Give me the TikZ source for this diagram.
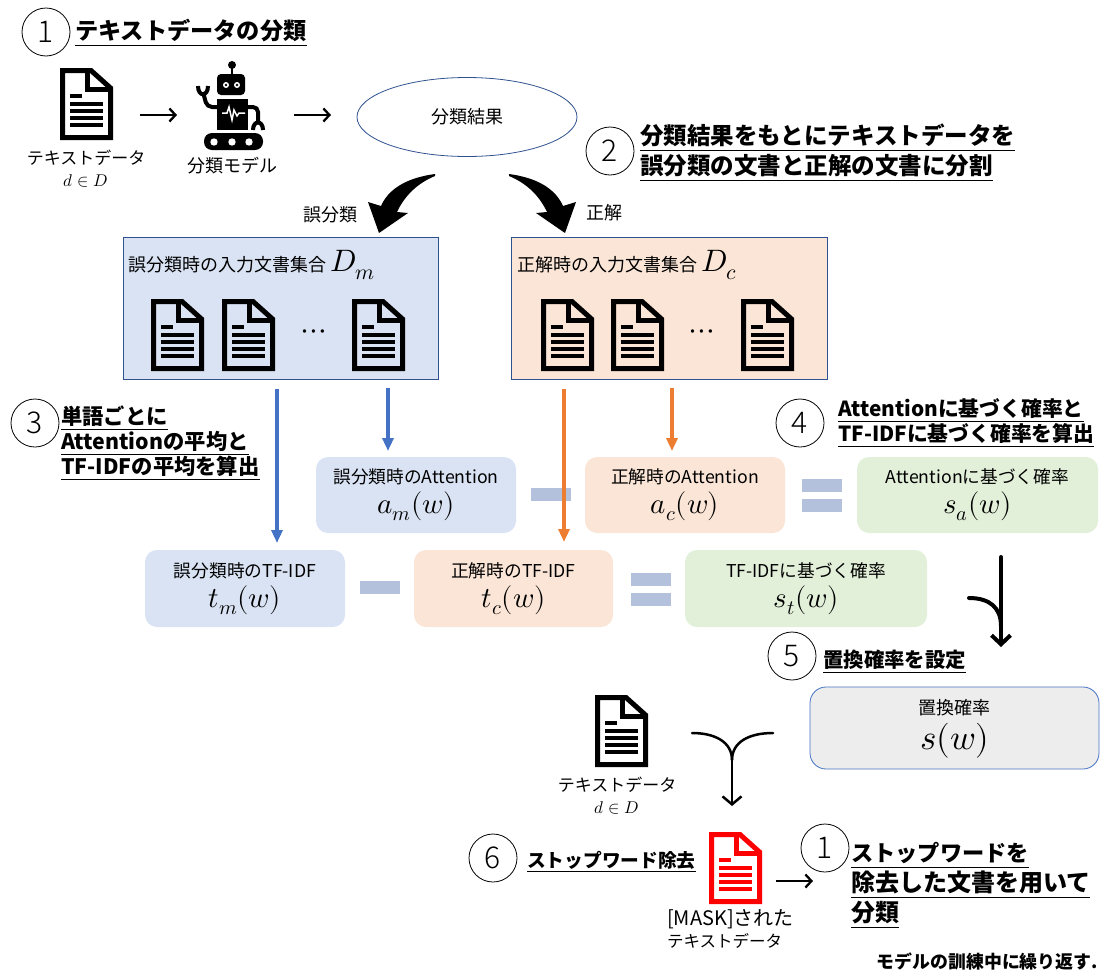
\documentclass[tikz,border=0pt]{standalone}
\usepackage{amsmath}
\usepackage{fontspec}
\usepackage{unicode-math}
\usetikzlibrary{arrows.meta}
\usetikzlibrary{shapes.geometric}
\setmainfont{Noto Sans CJK JP}
\setmathfont{Latin Modern Math}
\newfontfamily\thinnum{Noto Sans CJK JP Light}

\definecolor{panelblue}{HTML}{DAE3F3}
\definecolor{panelorange}{HTML}{FBE5D6}
\definecolor{panelgreen}{HTML}{E2F0D9}
\definecolor{panelgray}{HTML}{EDEDED}
\definecolor{edgeblue}{HTML}{2F528F}
\definecolor{arrowblue}{HTML}{4472C4}
\definecolor{arrowred}{HTML}{ED7D31}
\definecolor{signblue}{HTML}{B4C1DD}

\newcommand{\fsize}[1]{\fontsize{#1}{#1}\selectfont}

\tikzset{
    stepnum/.style={draw,circle,minimum size=48pt,inner sep=0pt,line width=0.8pt,font=\thinnum\fsize{30}},
    heading/.style={anchor=west,inner sep=0pt,align=left,font=\bfseries\fontsize{#1}{30}\selectfont},
    plain/.style={inner sep=0pt,align=center,font=\fontsize{#1}{22}\selectfont},
    softbox/.style={fill=#1,rounded corners=12pt,inner sep=0pt,align=center,font=\fontsize{17.7}{30}\selectfont},
    signbar/.style={fill=signblue,minimum width=40pt,minimum height=13pt,inner sep=0pt},
    thinarrow/.style={-{Straight Barb[length=6pt,width=13pt]},line width=2.3pt},
    colarrow/.style={-{Triangle[length=13pt,width=11pt]},line width=3.5pt,#1},
    mergeline/.style={line width=#1,line cap=round},
    pics/docicon/.style={code={
        \draw[#1,line width=5pt,miter limit=3] (2.5,2.5) -- (31,2.5) -- (50.5,20) -- (50.5,69.5) -- (2.5,69.5) -- cycle;
        \draw[#1,line width=5pt] (27.5,2.5) -- (27.5,21.5) -- (50,21.5);
        \fill[#1] (10,26) rectangle (22,30);
        \foreach \ybar in {34,41,48,55}
            \fill[#1] (10,\ybar) rectangle (43,\ybar+3.7);
    }},
    pics/docicon/.default=black,
    pics/bendarrow/.style={code={
        \fill (0,0) .. controls (-30,4) and (-47,16) .. (-54,32) -- (-67,28) -- (-56,59) -- (-27,39) -- (-38,38)
            .. controls (-30,21) and (-17,9) .. (0,2) -- cycle;
    }},
    pics/robot/.style={code={
        \fill (36,5) circle (4);
        \draw[line width=2.5pt] (36,8) -- (36,14);
        \fill[rounded corners=4pt] (21,14) rectangle (49,35);
        \foreach \xeye in {30,41} {
            \fill[white] (\xeye,25) circle (3);
            \fill (\xeye,25) circle (1.4);
        }
        \fill (21,39) rectangle (52,70);
        \draw[white,line width=1.5pt] (26,53) -- (31,53) -- (33,47) -- (36,60) -- (38,50) -- (41,56) -- (43,53) -- (49,53);
        \draw[line width=4pt,rounded corners=5pt] (21,47) -- (11,47) -- (7,32);
        \draw[line width=4pt] (2,26) .. controls (2,37) and (12,37) .. (12,26);
        \draw[line width=4pt,rounded corners=5pt] (52,47) -- (62,47) -- (62,62);
        \draw[line width=4pt] (57,70) .. controls (57,60) and (67,60) .. (67,70);
        \fill[rounded corners=8pt] (8,73) rectangle (67,90);
        \foreach \xdot in {18,36,53}
            \fill[white] (\xdot,82) circle (3.7);
    }}
}

\begin{document}
\begin{tikzpicture}[x=1pt,y=-1pt]
    \useasboundingbox (0,0) rectangle (1102,972);

    \node[stepnum] (stepA) at (46,32) {1};
    \node[heading=23.2] (titleA) at (75,33) {\underline{テキストデータの分類}};
    \pic (docTop) at (60,68) {docicon};
    \node[plain=17] (docTopLabel) at (86,169) {テキストデータ\\\fsize{17}$d\in D$};
    \pic (robot) at (196,60) {robot};
    \node[plain=18] (robotLabel) at (232,166) {分類モデル};
    \node[draw=edgeblue,ellipse,minimum width=220pt,minimum height=79pt,line width=0.8pt,font=\fsize{18}] (result) at (467,117) {分類結果};

    \coordinate (arrA) at (140,115);
    \coordinate (arrB) at (177,115);
    \coordinate (arrC) at (294,115);
    \coordinate (arrD) at (331,115);
    \draw[thinarrow] (arrA) -- (arrB);
    \draw[thinarrow] (arrC) -- (arrD);

    \node[stepnum] (stepB) at (610,151) {2};
    \node[heading=23.5] (titleB) at (640,153) {\underline{分類結果をもとにテキストデータを}\\\underline{誤分類の文書と正解の文書に分割}};

    \pic (bendLeft) at (435,174) {bendarrow};
    \pic[xscale=-1] (bendRight) at (509,174) {bendarrow};
    \node[plain=18] (wrongLabel) at (330,215) {誤分類};
    \node[plain=18] (rightLabel) at (604,213) {正解};

    \node[draw=edgeblue,fill=panelblue,minimum width=315pt,minimum height=142pt,line width=0.8pt] (panelM) at (280.5,308) {};
    \node[draw=edgeblue,fill=panelorange,minimum width=316pt,minimum height=142pt,line width=0.8pt] (panelC) at (669,308) {};
    \node[plain=18,anchor=west] (panelMText) at (128,265) {誤分類時の入力文書集合 \fsize{31}$D_m$};
    \node[plain=18,anchor=west] (panelCText) at (517,265) {正解時の入力文書集合 \fsize{31}$D_c$};
    \foreach \xdoc in {151,222,352}
        \pic at (\xdoc,299) {docicon};
    \foreach \xdoc in {541,611,741}
        \pic at (\xdoc,299) {docicon};
    \node[plain=32] (dotsM) at (314,335) {$\cdots$};
    \node[plain=32] (dotsC) at (702,335) {$\cdots$};

    \node[stepnum] (stepC) at (35,423) {3};
    \node[heading=21.3] (titleC) at (61,443) {\underline{単語ごとに}\\[-5pt]\underline{Attentionの平均と}\\[-5pt]\underline{TF-IDFの平均を算出}};

    \node[stepnum] (stepD) at (800,423) {4};
    \node[heading=20.8] (titleD) at (838,423) {\underline{Attentionに基づく確率と}\\[-5pt]\underline{TF-IDFに基づく確率を算出}};

    \node[softbox=panelblue,minimum width=200pt,minimum height=76pt] (boxAm) at (416,495) {誤分類時のAttention\\\fsize{29}$a_m(w)$};
    \node[softbox=panelorange,minimum width=200pt,minimum height=76pt] (boxAc) at (685,495) {正解時のAttention\\\fsize{29}$a_c(w)$};
    \node[softbox=panelgreen,minimum width=241pt,minimum height=76pt] (boxSa) at (977.5,495) {Attentionに基づく確率\\\fsize{29}$s_a(w)$};
    \node[softbox=panelblue,minimum width=200pt,minimum height=77pt] (boxTm) at (245,588.5) {誤分類時のTF-IDF\\\fsize{29}$t_m(w)$};
    \node[softbox=panelorange,minimum width=199pt,minimum height=77pt] (boxTc) at (513.5,588.5) {正解時のTF-IDF\\\fsize{29}$t_c(w)$};
    \node[softbox=panelgreen,minimum width=242pt,minimum height=77pt] (boxSt) at (806,588.5) {TF-IDFに基づく確率\\\fsize{29}$s_t(w)$};

    \node[signbar] (minusA) at (551,494.5) {};
    \node[signbar] (eqAtop) at (822,485.5) {};
    \node[signbar] (eqAbot) at (822,505.5) {};
    \node[signbar] (minusT) at (380,587.5) {};
    \node[signbar] (eqTtop) at (651,579.5) {};
    \node[signbar] (eqTbot) at (651,599.5) {};

    \coordinate (tmStart) at (277,389);
    \coordinate (tmEnd) at (277,543);
    \coordinate (amStart) at (388,388);
    \coordinate (amEnd) at (388,451);
    \coordinate (tcStart) at (564,389);
    \coordinate (tcEnd) at (564,542);
    \coordinate (acStart) at (672,388);
    \coordinate (acEnd) at (672,451);
    \draw[colarrow=arrowblue] (tmStart) -- (tmEnd);
    \draw[colarrow=arrowblue] (amStart) -- (amEnd);
    \draw[colarrow=arrowred] (tcStart) -- (tcEnd);
    \draw[colarrow=arrowred] (acStart) -- (acEnd);

    \coordinate (mergeTop) at (1001,557);
    \coordinate (mergeSide) at (969,598);
    \coordinate (mergeJoin) at (1001,626);
    \coordinate (mergeEnd) at (1001,647);
    \draw[mergeline=4pt] (mergeSide) .. controls (990,598) and (1001,608) .. (mergeJoin);
    \draw[mergeline=4pt,-{Straight Barb[length=9pt,width=19pt]}] (mergeTop) -- (mergeEnd);

    \node[stepnum] (stepE) at (792,656) {5};
    \node[heading=20.4] (titleE) at (823,662) {\underline{置換確率を設定}};
    \node[draw=arrowblue,fill=panelgray,rounded corners=16pt,minimum width=289pt,minimum height=82pt,line width=0.8pt] (boxS) at (954.5,728) {};
    \node[plain=18] (boxSLabel) at (954.5,708) {置換確率};
    \node[plain=35] (boxSValue) at (954.5,741) {$s(w)$};

    \pic (docBottom) at (595,695) {docicon};
    \node[plain=17] (docBottomLabel) at (617,796) {テキストデータ\\\fsize{17}$d\in D$};
    \coordinate (joinLeft) at (692,733);
    \coordinate (joinRight) at (773,733);
    \coordinate (joinMid) at (732,760);
    \coordinate (joinEnd) at (732,806);
    \draw[mergeline=2.5pt] (joinLeft) .. controls (715,733) and (732,742) .. (joinMid);
    \draw[mergeline=2.5pt] (joinRight) .. controls (749,733) and (732,742) .. (joinMid);
    \draw[mergeline=2.5pt,-{Straight Barb[length=8pt,width=19pt]}] (joinMid) -- (joinEnd);

    \node[stepnum] (stepF) at (493,858) {6};
    \node[heading=18.7] (titleF) at (527,862) {\underline{ストップワード除去}};
    \pic (docMask) at (709,832) {docicon=red};
    \node[plain=16.5,align=left,anchor=north west] (docMaskLabel) at (667,909) {\fsize{20}[MASK]された\\テキストデータ};
    \coordinate (maskOut) at (776,881);
    \coordinate (maskEnd) at (813,881);
    \draw[thinarrow] (maskOut) -- (maskEnd);

    \node[stepnum] (stepG) at (825,848) {1};
    \node[heading=24] (titleG) at (851,886) {\underline{\fsize{22.2}ストップワードを}\\\underline{除去した文書を用いて}\\\underline{分類}};
    \node[inner sep=0pt,anchor=east,font=\bfseries\fsize{17.9}] (footNote) at (1098,961) {モデルの訓練中に繰り返す.};
\end{tikzpicture}
\end{document}
